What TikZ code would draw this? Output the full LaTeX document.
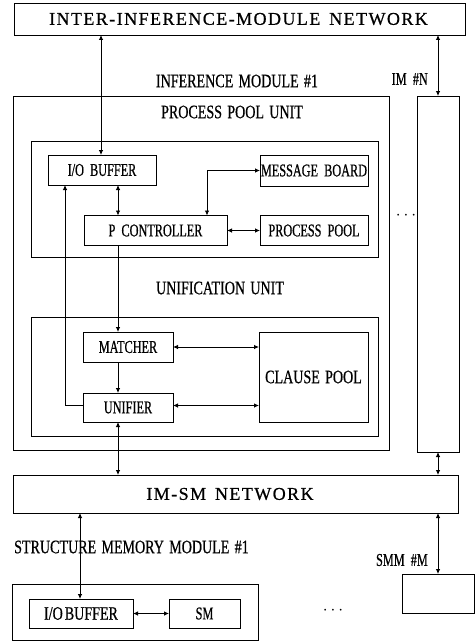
\documentclass[tikz,border=0pt]{standalone}
\usepackage{fontspec}
\setmainfont{Liberation Serif}[FakeStretch=0.68,WordSpace=2,FakeBold=0.6]
\newfontfamily\labfont{Liberation Serif}[FakeStretch=0.74,WordSpace=1.5,FakeBold=0.6]
\newfontfamily\widefont{Liberation Serif}[LetterSpace=8,WordSpace=1.5,FakeBold=0.6]
\usetikzlibrary{arrows.meta,calc}
\begin{document}
\begin{tikzpicture}[x=1pt,y=-1pt,
  box/.style={draw,line width=0.8pt,inner sep=0pt,outer sep=0pt,align=center,
    font=\fontsize{18}{18}\selectfont},
  frame/.style={draw,line width=0.8pt,inner sep=0pt,outer sep=0pt},
  lbl/.style={inner sep=0pt,font=\labfont\fontsize{19}{19}\selectfont},
  small/.style={inner sep=0pt,font=\fontsize{18}{18}\selectfont},
  net/.style={draw,line width=0.8pt,inner sep=0pt,outer sep=0pt},
  nettext/.style={inner sep=0pt,font=\widefont\fontsize{18}{18}\selectfont},
  conn/.style={line width=0.8pt},
  both/.style={conn,{Latex[length=5pt,width=4.5pt]}-{Latex[length=5pt,width=4.5pt]}},
  one/.style={conn,-{Latex[length=5pt,width=4.5pt]}}]
\useasboundingbox (0,0) rectangle (476,642);
% networks
\node[net,minimum width=451pt,minimum height=32pt] (iimn) at (239.5,19) {};
\node[nettext] (liimn) at (238.5,19) {INTER-INFERENCE-MODULE NETWORK};
\node[net,minimum width=445pt,minimum height=38pt] (imsm) at (235.5,494) {};
\node[nettext] (limsm) at (230,494) {IM-SM NETWORK};
% inference modules
\node[frame,minimum width=376pt,minimum height=354pt] (im1) at (201,273) {};
\node[frame,minimum width=42pt,minimum height=356pt] (imN) at (438,274) {};
\node[lbl] (lim1) at (237,81) {INFERENCE MODULE \#1};
\node[small,anchor=east] (limN) at (428,79) {IM \#N};
\node[lbl] (lppu) at (232,112) {PROCESS POOL UNIT};
\node[lbl] (luu) at (220,288) {UNIFICATION UNIT};
\node[lbl] (dots1) at (406,216) {$\cdots$};
% process pool unit
\node[frame,minimum width=347pt,minimum height=116pt] (ppu) at (204.5,199) {};
\node[box,minimum width=108pt,minimum height=30pt] (iob) at (102,170) {I/O BUFFER};
\node[box,minimum width=108pt,minimum height=31pt] (mb) at (314,170.5) {MESSAGE BOARD};
\node[box,minimum width=143pt,minimum height=30pt] (pc) at (155.5,230.5) {P CONTROLLER};
\node[box,minimum width=108pt,minimum height=30pt] (pp) at (314,230.5) {PROCESS POOL};
% unification unit
\node[frame,minimum width=347pt,minimum height=119pt] (uu) at (204.5,376.5) {};
\node[box,minimum width=90pt,minimum height=30pt] (mat) at (128,347) {MATCHER};
\node[box,minimum width=90pt,minimum height=29pt] (uni) at (128,407.5) {UNIFIER};
\node[box,minimum width=109pt,minimum height=90pt,font=\labfont\fontsize{19}{19}\selectfont] (cp) at (313.5,377) {CLAUSE POOL};
% structure memory modules
\node[lbl,anchor=west] (lsmm) at (14,547) {STRUCTURE MEMORY MODULE \#1};
\node[frame,minimum width=246pt,minimum height=56pt] (smm) at (135,612) {};
\node[box,minimum width=104pt,minimum height=29pt,font=\labfont\fontsize{19}{19}\selectfont] (siob) at (81,613.5) {I/O\hspace{2pt}BUFFER};
\node[box,minimum width=71pt,minimum height=29pt] (sm) at (204.5,613.5) {SM};
\node[lbl] (dots2) at (333,611) {$\cdots$};
\node[small,anchor=east] (lsmmM) at (428,560) {SMM \#M};
\node[frame,minimum width=72pt,minimum height=39pt] (smmM) at (438,593.5) {};
% helper x positions
\coordinate (xa) at (118,0);
\coordinate (xb) at (207,0);
\coordinate (xc) at (65,0);
% connectors
\draw[both] (iimn.south -| iob.north) ++(-1,0) coordinate (t1) -- (t1 |- iob.north);
\draw[both] (iimn.south -| imN.north) -- (imN.north);
\draw[both] (iob.south -| xa) -- (pc.north -| xa);
\draw[both] (pc.north -| xb) |- (mb.west);
\draw[both] (pc.east) -- (pp.west);
\draw[one] (pc.south -| xa) -- (mat.north -| xa);
\draw[one] (mat.south -| xa) -- (uni.north -| xa);
\draw[both] (mat.east) -- (mat.east -| cp.west);
\draw[both] (uni.east) ++(0,-2) coordinate (t2) -- (t2 -| cp.west);
\draw[one] (uni.west) ++(0,-2) coordinate (t3) -| (iob.south -| xc);
\draw[both] (uni.south -| xa) -- (imsm.north -| xa);
\draw[both] (imN.south) -- (imN.south |- imsm.north);
\draw[both] (imsm.south -| siob.north) ++(-1,0) coordinate (t4) -- (t4 |- siob.north);
\draw[both] (imsm.south -| smmM.north) -- (smmM.north);
\draw[both] (siob.east) -- (sm.west);
\end{tikzpicture}
\end{document}
